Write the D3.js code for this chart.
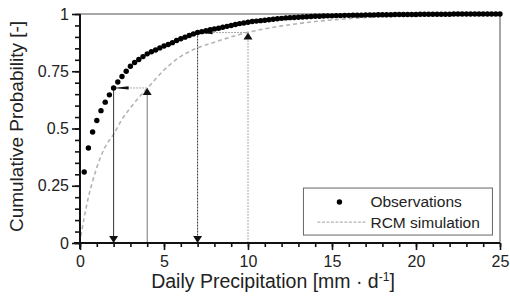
<!DOCTYPE html>
<html>
<head>
<meta charset="utf-8">
<script src="https://cdn.jsdelivr.net/npm/d3@7"></script>
<style>
  body { margin: 0; background: #fff; }
  text { font-family: "Liberation Sans", Arial, sans-serif; fill: #222; }
</style>
</head>
<body>
<div id="chart"></div>
<script>
// Observed empirical CDF (every 0.25 mm)
var obsPrecip = [0.25, 0.5, 0.75, 1, 1.25, 1.5, 1.75, 2, 2.25, 2.5, 2.75, 3, 3.25, 3.5, 3.75, 4,
  4.25, 4.5, 4.75, 5, 5.25, 5.5, 5.75, 6, 6.25, 6.5, 6.75, 7, 7.25, 7.5, 7.75, 8,
  8.25, 8.5, 8.75, 9, 9.25, 9.5, 9.75, 10, 10.25, 10.5, 10.75, 11, 11.25, 11.5, 11.75, 12,
  12.25, 12.5, 12.75, 13, 13.25, 13.5, 13.75, 14, 14.25, 14.5, 14.75, 15, 15.25, 15.5, 15.75, 16,
  16.25, 16.5, 16.75, 17, 17.25, 17.5, 17.75, 18, 18.25, 18.5, 18.75, 19, 19.25, 19.5, 19.75, 20,
  20.25, 20.5, 20.75, 21, 21.25, 21.5, 21.75, 22, 22.25, 22.5, 22.75, 23, 23.25, 23.5, 23.75, 24,
  24.25, 24.5, 24.75, 25];
var obsProb = [0.310, 0.415, 0.485, 0.535, 0.578, 0.615, 0.647, 0.677, 0.703, 0.727, 0.750, 0.772, 0.788, 0.801, 0.814, 0.826,
  0.835, 0.843, 0.852, 0.860, 0.867, 0.875, 0.884, 0.892, 0.899, 0.906, 0.913, 0.919, 0.923, 0.927, 0.931, 0.935,
  0.938, 0.942, 0.946, 0.950, 0.954, 0.958, 0.961, 0.964, 0.967, 0.969, 0.971, 0.973, 0.975, 0.977, 0.979, 0.981,
  0.983, 0.984, 0.985, 0.986, 0.987, 0.988, 0.989, 0.990, 0.990, 0.991, 0.992, 0.992, 0.993, 0.993, 0.994, 0.994,
  0.995, 0.995, 0.995, 0.996, 0.996, 0.996, 0.997, 0.997, 0.997, 0.997, 0.998, 0.998, 0.998, 0.998, 0.998, 0.998,
  0.999, 0.999, 0.999, 0.999, 0.999, 0.999, 0.999, 0.999, 1, 1, 1, 1, 1, 1, 1, 1,
  1, 1, 1, 1];

// RCM simulated CDF
var rcmPrecip = [0.05, 0.25, 0.5, 0.75, 1, 1.25, 1.5, 2, 2.5, 3, 3.5, 4, 5, 6, 7, 8, 9, 10, 11, 12, 13, 14, 15, 16, 18, 20, 22, 25];
var rcmProb = [0.03, 0.11, 0.20, 0.27, 0.33, 0.38, 0.42, 0.475, 0.54, 0.59, 0.635, 0.675, 0.755, 0.815, 0.852, 0.877, 0.90, 0.92, 0.935, 0.948, 0.958, 0.967, 0.974, 0.980, 0.988, 0.993, 0.996, 0.998];

// quantile mapping examples: RCM value -> observed value at same probability
var mapRcm = [4, 10];
var mapObs = [2, 7];
var mapProb = [0.677, 0.919];

var xMajor = [0, 5, 10, 15, 20, 25];
var yMajor = [0, 0.25, 0.5, 0.75, 1];
var yLabels = ["0", "0.25", "0.5", "0.75", "1"];

var svgWidth = 510, svgHeight = 304;
var margin = { top: 14, right: 10, bottom: 61, left: 80 };
var width = svgWidth - margin.left - margin.right;
var height = svgHeight - margin.top - margin.bottom;

var svg = d3.select("#chart").append("svg")
  .attr("width", svgWidth)
  .attr("height", svgHeight);

var g = svg.append("g")
  .attr("transform", `translate(${margin.left}, ${margin.top})`);

var x = d3.scaleLinear().domain([0, 25]).range([0, width]);
var y = d3.scaleLinear().domain([0, 1]).range([height, 0]);

// frame top / right
g.append("line").attr("x1", 0).attr("x2", width).attr("y1", 0).attr("y2", 0)
  .attr("stroke", "#8a8a8a").attr("stroke-width", 1.5);
g.append("line").attr("x1", width).attr("x2", width).attr("y1", 0).attr("y2", height)
  .attr("stroke", "#8a8a8a").attr("stroke-width", 1.5);

// RCM curve
var rcmLine = d3.line()
  .x((d, i) => x(rcmPrecip[i]))
  .y(d => y(d))
  .curve(d3.curveMonotoneX);
g.append("path")
  .datum(rcmProb)
  .attr("d", rcmLine)
  .attr("fill", "none")
  .attr("stroke", "#b4b4b4")
  .attr("stroke-width", 1.6)
  .attr("stroke-dasharray", "4,3");

// mapping arrows
var tri = 4.5, triH = 7;
mapRcm.forEach(function(r, i) {
  var o = mapObs[i], p = mapProb[i];
  var rcmColor = i === 0 ? "#777" : "#aaa";
  // up from RCM value to RCM curve
  g.append("line")
    .attr("x1", x(r)).attr("x2", x(r)).attr("y1", y(0)).attr("y2", y(p))
    .attr("stroke", rcmColor).attr("stroke-width", 1)
    .attr("stroke-dasharray", i === 0 ? null : "2,1");
  g.append("path")
    .attr("d", `M${x(r) - tri},${y(p) + triH} L${x(r) + tri},${y(p) + triH} L${x(r)},${y(p)} Z`)
    .attr("fill", "#111");
  // across to observed curve
  g.append("line")
    .attr("x1", x(r)).attr("x2", x(o)).attr("y1", y(p)).attr("y2", y(p))
    .attr("stroke", "#aaa").attr("stroke-width", 1).attr("stroke-dasharray", "2,1");
  g.append("path")
    .attr("d", `M${x(o)},${y(p)} L${x(o) + 15},${y(p) - 1.6} L${x(o) + 15},${y(p) + 1.6} Z`)
    .attr("fill", "#111");
  // down to observed value
  g.append("line")
    .attr("x1", x(o)).attr("x2", x(o)).attr("y1", y(p)).attr("y2", y(0))
    .attr("stroke", "#333").attr("stroke-width", 1)
    .attr("stroke-dasharray", i === 0 ? null : "2,1");
  g.append("path")
    .attr("d", `M${x(o) - tri},${y(0) - triH} L${x(o) + tri},${y(0) - triH} L${x(o)},${y(0)} Z`)
    .attr("fill", "#111");
});

// observations
g.selectAll("circle.obs")
  .data(obsProb)
  .enter()
  .append("circle")
  .attr("class", "obs")
  .attr("cx", (d, i) => x(obsPrecip[i]))
  .attr("cy", d => y(d))
  .attr("r", 2.7)
  .attr("fill", "#000");

// axes
var xMinorAxis = d3.axisBottom(x).ticks(25).tickSize(4).tickFormat("");
var xAxis = d3.axisBottom(x).tickValues(xMajor).tickSize(7).tickPadding(6).tickFormat(d3.format("d"));
var yMinorAxis = d3.axisLeft(y).ticks(20).tickSize(5).tickFormat("");
var yAxis = d3.axisLeft(y).tickValues(yMajor).tickSize(8).tickPadding(3).tickFormat((d, i) => yLabels[i]);

function styleAxis(sel) {
  sel.select(".domain").remove();
  sel.selectAll("line").attr("stroke", "#111").attr("stroke-width", 1.6);
  sel.selectAll("text").attr("font-size", 16).attr("fill", "#222")
    .attr("font-family", "Liberation Sans, Arial, sans-serif");
}

g.append("g").attr("transform", `translate(0, ${height})`).call(xMinorAxis).call(styleAxis);
g.append("g").attr("transform", `translate(0, ${height})`).call(xAxis).call(styleAxis);
g.append("g").call(yMinorAxis).call(styleAxis);
g.append("g").call(yAxis).call(styleAxis);

// axis lines
g.append("line").attr("x1", -6).attr("x2", width).attr("y1", height).attr("y2", height)
  .attr("stroke", "#111").attr("stroke-width", 2);
g.append("line").attr("x1", 0).attr("x2", 0).attr("y1", 0).attr("y2", height + 6)
  .attr("stroke", "#111").attr("stroke-width", 2);

// axis titles
g.append("text")
  .attr("transform", "rotate(-90)")
  .attr("x", -height / 2 + 2)
  .attr("y", -57)
  .attr("text-anchor", "middle")
  .attr("font-size", 19)
  .text("Cumulative Probability [-]");

var xt = g.append("text")
  .attr("x", 193)
  .attr("y", height + 45)
  .attr("text-anchor", "middle")
  .attr("font-size", 19.5);
xt.append("tspan").text("Daily Precipitation [mm \u00b7 d");
xt.append("tspan").attr("dy", -7).attr("font-size", 12).text("-1");
xt.append("tspan").attr("dy", 7).text("]");

// legend
var legend = g.append("g").attr("transform", `translate(${x(13.3)}, ${y(0.24)})`);
legend.append("rect")
  .attr("width", 189).attr("height", 47)
  .attr("fill", "#fff").attr("stroke", "#666").attr("stroke-width", 1);
legend.append("circle").attr("cx", 36).attr("cy", 14).attr("r", 2.7).attr("fill", "#000");
legend.append("text").attr("x", 67).attr("y", 19).attr("font-size", 15.5).text("Observations");
legend.append("line").attr("x1", 14).attr("x2", 62).attr("y1", 34).attr("y2", 34)
  .attr("stroke", "#b4b4b4").attr("stroke-width", 1.2).attr("stroke-dasharray", "3,1.5");
legend.append("text").attr("x", 67).attr("y", 40).attr("font-size", 15.5).text("RCM simulation");
</script>
</body>
</html>
